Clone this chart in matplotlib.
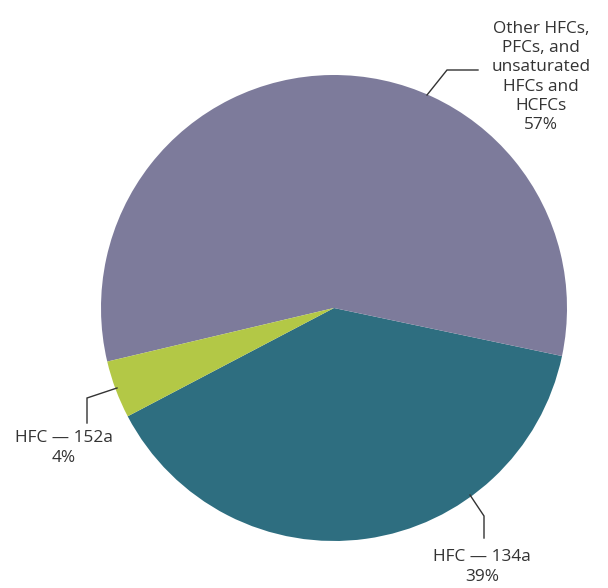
import matplotlib.pyplot as plt

# data
labels = ['HFC \u2014 134a', 'Other HFCs,\nPFCs, and\nunsaturated\nHFCs and\nHCFCs', 'HFC \u2014 152a']
shares = [39, 57, 4]
colors = ['#2e6e80', '#7d7b9b', '#b3c846']

plt.rcParams['font.family'] = ['Open Sans', 'DejaVu Sans']

W, H = 608, 588
fig = plt.figure(figsize=(W / 100, H / 100), dpi=100)

# pie centre (334, 308) px, radius 233 px
cx, cy, r = 334, 308, 233
ax = fig.add_axes([(cx - r) / W, (H - cy - r) / H, 2 * r / W, 2 * r / H])
ax.pie(shares, colors=colors, startangle=207.7, counterclock=True, radius=1,
       wedgeprops=dict(linewidth=0))
ax.set_xlim(-1, 1)
ax.set_ylim(-1, 1)
ax.set_aspect('equal')
ax.axis('off')


def px(x, y):
    # pixel position -> data coords
    return (x - cx) / r, (cy - y) / r


def leader(points):
    pts = [px(*p) for p in points]
    ax.plot([p[0] for p in pts], [p[1] for p in pts], color='#333333',
            lw=1, clip_on=False, solid_joinstyle='miter')


leader([(427, 95), (447, 70), (478, 70)])
leader([(117, 388), (87, 398), (87, 423)])
leader([(470, 495), (484, 516), (484, 538)])

txt = dict(ha='center', va='center', fontsize=12.4, color='#333333',
           linespacing=1.26, clip_on=False)
ax.text(*px(541, 77), labels[1] + '\n%d%%' % shares[1], **txt)
ax.text(*px(64, 448), labels[2] + '\n%d%%' % shares[2], **txt)
ax.text(*px(482, 567), labels[0] + '\n%d%%' % shares[0], **txt)

fig.savefig('out.png', dpi=100)
